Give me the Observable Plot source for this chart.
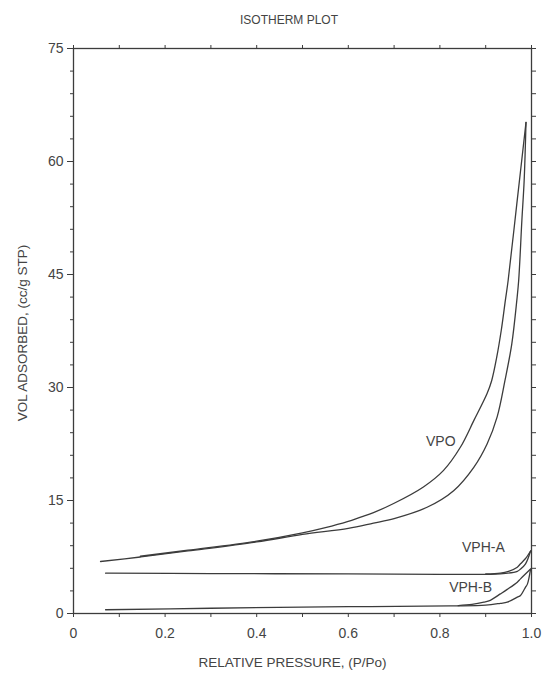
<!DOCTYPE html>
<html><head><meta charset="utf-8">
<script src="https://cdn.jsdelivr.net/npm/d3@7"></script>
<script src="https://cdn.jsdelivr.net/npm/@observablehq/plot@0.6"></script>
<style>
body{margin:0;background:#fff;}
#title{position:relative;height:36px;width:545px;font-family:"Liberation Sans",Arial,sans-serif;}
#title span{position:absolute;left:289px;top:13px;transform:translateX(-50%);font-size:12px;color:#444;white-space:nowrap;}
</style></head>
<body>
<div id="title"><span>ISOTHERM PLOT</span></div>
<div id="chart"></div>
<script>
// ---- data (relative pressure P/Po, volume adsorbed cc/g STP) ----
const vpoAdsorption = [[0.059,6.9],[0.146,7.5],[0.25,8.3],[0.40,9.5],[0.50,10.5],[0.60,11.3],[0.655,12.0],[0.70,12.6],[0.772,14.1],[0.830,16.3],[0.874,19.4],[0.903,22.5],[0.925,26.1],[0.942,30.9],[0.957,35.8],[0.968,41.6],[0.972,44.2],[0.979,52.2],[0.984,57.5],[0.988,65.2]];
const vpoDesorption = [[0.988,65.2],[0.968,54.4],[0.949,44.2],[0.943,41.6],[0.934,37.6],[0.924,34.0],[0.913,30.9],[0.903,29.2],[0.874,25.6],[0.845,22.1],[0.808,19.0],[0.764,16.8],[0.699,14.6],[0.655,13.4],[0.627,12.8],[0.598,12.2],[0.55,11.4],[0.50,10.7],[0.40,9.6],[0.25,8.4],[0.146,7.6]];
const vphAAdsorption = [[0.070,5.35],[0.3,5.3],[0.6,5.25],[0.8,5.2],[0.90,5.2],[0.932,5.25],[0.969,5.6],[0.976,5.9],[0.987,6.6],[0.998,8.3]];
const vphADesorption = [[0.998,8.3],[0.987,7.3],[0.976,6.6],[0.969,6.15],[0.95,5.6],[0.932,5.35],[0.90,5.25]];
const vphBAdsorption = [[0.070,0.5],[0.3,0.7],[0.6,0.9],[0.823,1.0],[0.90,1.1],[0.932,1.35],[0.947,1.5],[0.969,2.17],[0.976,2.4],[0.987,3.5],[0.991,3.9],[0.998,5.9]];
const vphBDesorption = [[0.998,5.9],[0.976,4.6],[0.969,4.16],[0.947,3.2],[0.932,2.6],[0.91,1.75],[0.896,1.5],[0.87,1.2],[0.84,1.05]];

const curveNames = ["VPO","VPH-A","VPH-B"];
const curveLabelP = [0.802, 0.895, 0.867];
const curveLabelV = [22.8, 8.7, 3.4];

const xTickValues = [0,0.2,0.4,0.6,0.8,1.0];
const xTickLabels = ["0","0.2","0.4","0.6","0.8","1.0"];
const xMinorTicks = [0,0.1,0.2,0.3,0.4,0.5,0.6,0.7,0.8,0.9,1.0];
const yTickValues = [0,15,30,45,60,75];
const yMinorTicks = [0,3,6,9,12,15,18,21,24,27,30,33,36,39,42,45,48,51,54,57,60,63,66,69,72,75];
const xTitle = "RELATIVE PRESSURE, (P/Po)";
const yTitle = "VOL ADSORBED, (cc/g STP)";

// ---- build tables ----
const branches = [
  ["vpo-a", vpoAdsorption], ["vpo-d", vpoDesorption],
  ["vpha-a", vphAAdsorption], ["vpha-d", vphADesorption],
  ["vphb-a", vphBAdsorption], ["vphb-d", vphBDesorption]
];
const rows = branches.flatMap(([id, pts]) => pts.map(([p, v]) => ({id, p, v})));
const labels = curveNames.map((name, i) => ({name, p: curveLabelP[i], v: curveLabelV[i]}));

const ink = "#3c3c3c";
const font = "'Liberation Sans', Arial, sans-serif";

const chart = Plot.plot({
  width: 545, height: 640,
  marginTop: 12, marginBottom: 63, marginLeft: 73, marginRight: 14,
  x: {domain: [0, 1], label: null},
  y: {domain: [0, 75], label: null},
  style: {fontFamily: font, fontSize: "14px", color: "#444", background: "white"},
  marks: [
    Plot.frame({stroke: ink, strokeWidth: 1.3}),
    Plot.axisY({ticks: yMinorTicks, tickSize: 3, fill: "none", stroke: ink, label: null}),
    Plot.axisY({ticks: yTickValues, tickSize: 6, tickPadding: 4, tickFormat: d => String(d), stroke: ink, fill: "#444", fontSize: 14, label: null}),
    Plot.axisY({anchor: "right", ticks: yMinorTicks, tickSize: 4, fill: "none", stroke: ink, label: null}),
    Plot.axisX({anchor: "top", ticks: xMinorTicks, tickSize: 4, fill: "none", stroke: ink, label: null}),
    Plot.axisX({anchor: "bottom", ticks: xMinorTicks, tickSize: 4, fill: "none", stroke: ink, label: null}),
    Plot.axisX({anchor: "bottom", ticks: xTickValues, tickSize: 0, tickPadding: 15, tickFormat: d => xTickLabels[xTickValues.indexOf(d)], fill: "#444", fontSize: 14, label: null}),
    Plot.line(rows, {x: "p", y: "v", z: "id", stroke: ink, strokeWidth: 1.3, curve: "catmull-rom"}),
    Plot.text(labels, {x: "p", y: "v", text: "name", fill: "#444", fontSize: 14}),
    Plot.text([xTitle], {frameAnchor: "bottom", textAnchor: "middle", lineAnchor: "middle", dx: -10, dy: 49, fill: "#444", fontSize: 13.5}),
    Plot.text([yTitle], {frameAnchor: "left", textAnchor: "middle", lineAnchor: "middle", rotate: -90, dx: -51, dy: 2, fill: "#444", fontSize: 13.5})
  ]
});
document.getElementById("chart").appendChild(chart);
</script>
</body></html>
